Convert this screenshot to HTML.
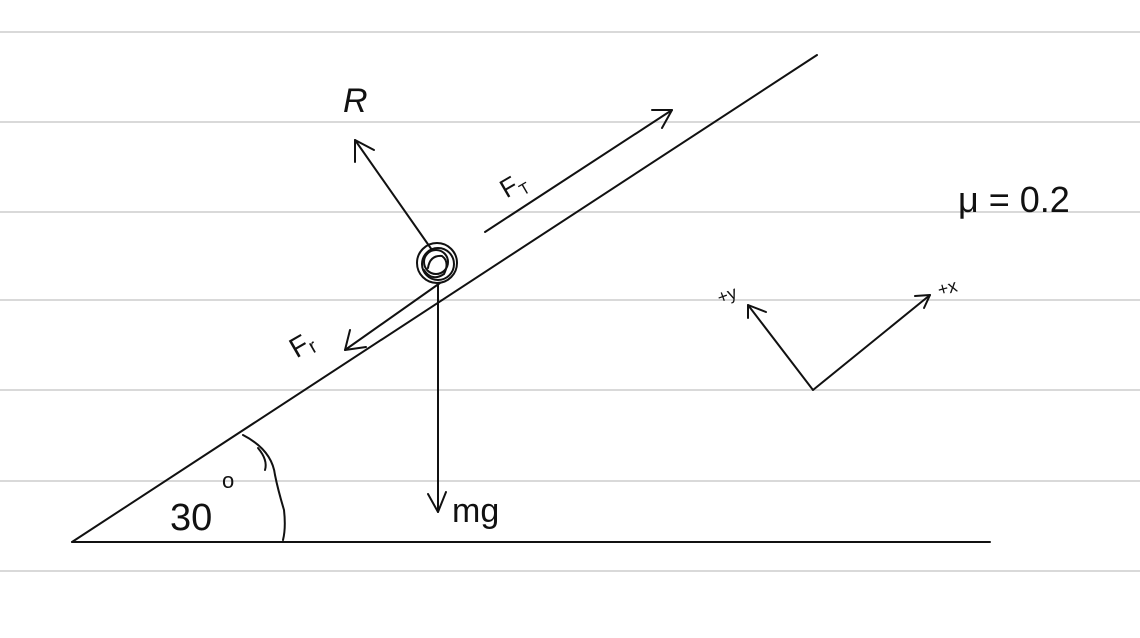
<!DOCTYPE html>
<html><head><meta charset="utf-8"><style>
html,body{margin:0;padding:0;background:#fff;}
svg{display:block;}
text{font-family:"Liberation Sans",sans-serif;fill:#111;}
</style></head><body>
<svg width="1140" height="638" viewBox="0 0 1140 638">
<g stroke="#d9d9d9" stroke-width="2">
<line x1="0" y1="32" x2="1140" y2="32"/>
<line x1="0" y1="122" x2="1140" y2="122"/>
<line x1="0" y1="212" x2="1140" y2="212"/>
<line x1="0" y1="300" x2="1140" y2="300"/>
<line x1="0" y1="390" x2="1140" y2="390"/>
<line x1="0" y1="481" x2="1140" y2="481"/>
<line x1="0" y1="571" x2="1140" y2="571"/>
</g>
<g stroke="#111" stroke-width="2" fill="none" stroke-linecap="round" stroke-linejoin="round">
<line x1="72" y1="542" x2="817" y2="55"/>
<line x1="72" y1="542" x2="990" y2="542"/>
<path d="M243,435 Q272,450 275,475 Q278,490 284,510 Q286,528 283,540"/>
<path d="M258,448 Q268,460 265,470"/>
<g>
<circle cx="437" cy="263" r="20"/>
<circle cx="438" cy="264" r="16"/>
<circle cx="436" cy="262" r="12"/>
<path d="M428,268 Q430,255 442,256 Q450,262 444,274 Q432,282 424,270"/>
</g>
<g>
<line x1="432" y1="250" x2="355" y2="140"/>
<path d="M355,162 L355,140 L374,150"/>
</g>
<g>
<line x1="485" y1="232" x2="672" y2="110"/>
<path d="M652,110 L672,110 L662,128"/>
</g>
<g>
<line x1="440" y1="283" x2="345" y2="350"/>
<path d="M350,330 L345,350 L366,347"/>
</g>
<g>
<line x1="438" y1="283" x2="438" y2="512"/>
<path d="M428,494 L438,512 L446,492"/>
</g>
<g>
<path d="M748,305 L813,390 L930,295"/>
<path d="M748,318 L748,305 L766,312"/>
<path d="M915,296 L930,295 L924,308"/>
</g>
</g>
<text x="343" y="112" font-size="34" font-style="italic">R</text>
<text x="500" y="195" font-size="26" transform="rotate(-30 510 185)">F<tspan font-size="16" dy="6">T</tspan></text>
<text x="290" y="355" font-size="28" transform="rotate(-30 300 345)">F<tspan font-size="20" dy="4">r</tspan></text>
<text x="452" y="522" font-size="34">mg</text>
<text x="170" y="530" font-size="38">30</text>
<text x="222" y="488" font-size="22">o</text>
<text x="958" y="212" font-size="36">μ = 0.2</text>
<text x="716" y="298" font-size="18" transform="rotate(-20 735 290)">+y</text>
<text x="937" y="293" font-size="18" transform="rotate(-15 950 285)">+x</text>
</svg>
</body></html>
